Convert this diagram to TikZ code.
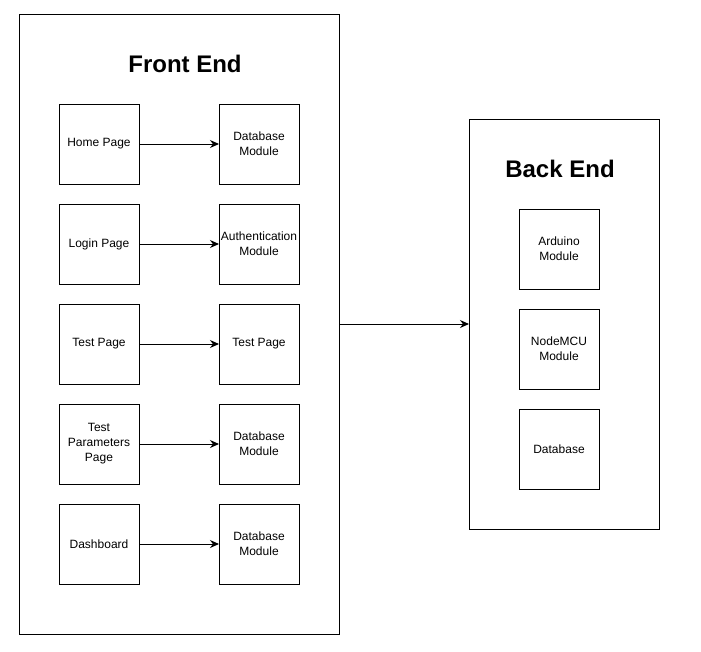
\documentclass[tikz,border=0pt]{standalone}
\usepackage{fontspec}
\setmainfont{Liberation Sans}
\usepackage{tikz}
\usetikzlibrary{arrows.meta, positioning}
\tikzstyle{block} = [rectangle, minimum width=80pt, minimum height=80pt, align=center, inner sep=1pt, outer sep=0pt, draw=black, line width=1pt, font=\fontsize{12}{15}\selectfont]
\tikzstyle{frame} = [rectangle, draw=black, line width=1pt, outer sep=0pt]
\tikzstyle{heading} = [font=\fontsize{24}{28}\selectfont\bfseries]
\tikzstyle{arrow} = [line width=1pt, -{Stealth[length=9pt,width=8pt]}]

\begin{document}
\begin{tikzpicture}[x=1pt, y=-1pt, node distance=20pt and 80pt]
  \useasboundingbox (0,0) rectangle (701,651);
  % front end
  \node[frame, minimum width=320pt, minimum height=620pt] (fe) at (179,324) {};
  \node[heading] (fetitle) at (185,64) {Front End};
  \node[block] (home) at (99,144) {Home Page};
  \node[block, below=of home] (login) {Login Page};
  \node[block, below=of login] (test) {Test Page};
  \node[block, below=of test] (param) {Test\\Parameters\\Page};
  \node[block, below=of param] (dash) {Dashboard};
  \node[block, right=of home] (dbone) {Database\\Module};
  \node[block, right=of login] (auth) {Authentication\\Module};
  \node[block, right=of test] (testtwo) {Test Page};
  \node[block, right=of param] (dbtwo) {Database\\Module};
  \node[block, right=of dash] (dbthree) {Database\\Module};

  % back end
  \node[frame, minimum width=190pt, minimum height=410pt] (be) at (564,324) {};
  \node[heading] (betitle) at (560,169) {Back End};
  \node[block] (ard) at (559,249) {Arduino\\Module};
  \node[block, below=of ard] (mcu) {NodeMCU\\Module};
  \node[block, below=of mcu] (db) {Database};

  \draw[arrow] (home) -- (dbone);
  \draw[arrow] (login) -- (auth);
  \draw[arrow] (test) -- (testtwo);
  \draw[arrow] (param) -- (dbtwo);
  \draw[arrow] (dash) -- (dbthree);
  \draw[arrow] (fe) -- (be);
\end{tikzpicture}
\end{document}
